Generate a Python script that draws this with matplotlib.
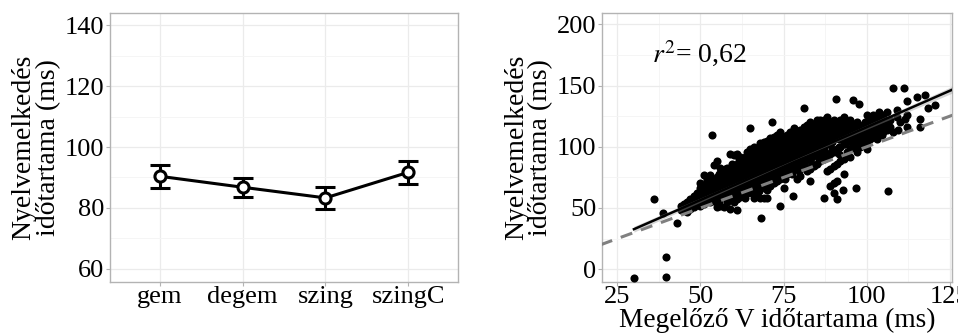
import numpy as np
import matplotlib
matplotlib.use("Agg")
import matplotlib.pyplot as plt
from matplotlib.ticker import MultipleLocator

plt.rcParams['font.family'] = ['Liberation Serif', 'DejaVu Serif']
plt.rcParams['mathtext.fontset'] = 'stix'

# left panel: means with error bars per condition
conditions = ['gem', 'degem', 'szing', 'szingC']
cond_mean = [90.4, 86.8, 83.3, 91.7]
cond_low = [86.6, 83.7, 79.5, 87.9]
cond_high = [94.2, 89.9, 87.0, 95.4]

# right panel: isolated points (vowel duration, raising duration)
outliers = [
    (30, -7.3), (39.5, 10.3), (39.5, -6), (36, 57), (38.8, 45.7), (43, 38),
    (53.4, 110), (64.9, 115.6), (71.4, 120), (68.2, 42), (73.9, 51.7),
    (81.1, 131.4), (77.7, 60), (90.7, 139), (96, 138), (97.7, 135),
    (92.7, 65), (96.7, 66), (87.1, 58), (106.5, 64), (108, 148),
    (111.3, 148), (115, 141), (117.5, 142), (118.5, 132), (116, 123),
    (116, 116), (111.5, 123), (109.5, 114), (104.5, 110), (112, 137),
    (109, 130), (100, 126), (102, 126), (103.8, 128), (120.5, 134),
]

# right panel: dense cloud, listed as vowel duration -> raising durations
cloud = [
    (44, [52, 48]), (45, [53, 50]), (46, [55, 51, 47]), (47, [57, 53, 49]),
    (48, [58, 55, 60, 51]), (49, [62, 56, 53, 60]),
    (50, [66, 58, 55, 62, 52, 70]), (51, [77, 60, 56, 64, 68, 53]),
    (52, [72, 62, 58, 66, 74]), (53, [63, 68, 59, 71, 77, 55]),
    (54, [85, 65, 70, 60, 73, 56]), (55, [88, 67, 72, 62, 75, 51, 58]),
    (56, [70, 64, 74, 78, 60, 52, 83]), (57, [68, 72, 65, 76, 51, 80, 61]),
    (58, [70, 74, 66, 79, 62, 55, 83]), (59, [94, 72, 68, 76, 64, 49, 58, 80]),
    (60, [93, 74, 70, 78, 66, 60, 84, 55]),
    (61, [94, 76, 71, 80, 67, 62, 86, 57, 48]),
    (62, [72, 78, 82, 68, 64, 88, 59, 92]),
    (63, [74, 80, 84, 70, 65, 90, 60, 77]),
    (64, [76, 82, 86, 72, 67, 96, 62, 79]),
    (65, [78, 84, 88, 73, 68, 98, 63, 81, 92]),
    (66, [80, 86, 90, 75, 70, 100, 64, 83, 94, 58]),
    (67, [82, 88, 92, 76, 71, 96, 66, 85, 78, 60]),
    (68, [84, 90, 94, 78, 73, 103, 68, 87, 80, 58]),
    (69, [86, 92, 96, 80, 75, 100, 70, 89, 82, 58, 104]),
    (70, [88, 94, 98, 82, 76, 105, 72, 90, 84, 65, 58]),
    (71, [90, 96, 100, 84, 78, 107, 74, 92, 86, 68]),
    (72, [92, 98, 102, 86, 80, 108, 76, 94, 88, 70]),
    (73, [94, 100, 104, 88, 82, 110, 78, 96, 90, 72, 108]),
    (74, [96, 102, 106, 90, 84, 112, 80, 98, 92, 74]),
    (75, [98, 104, 108, 92, 86, 100, 82, 94, 88, 76, 66]),
    (76, [100, 106, 110, 94, 88, 102, 84, 96, 90, 78]),
    (77, [102, 108, 112, 96, 90, 104, 86, 98, 92, 80]),
    (78, [104, 110, 98, 92, 106, 88, 100, 94, 82, 115]),
    (79, [106, 112, 100, 94, 108, 90, 102, 96, 84, 74]),
    (80, [108, 114, 102, 96, 110, 92, 104, 98, 86, 76]),
    (81, [110, 116, 104, 98, 112, 94, 106, 100, 88]),
    (82, [112, 118, 106, 100, 114, 96, 108, 102, 90, 80]),
    (83, [114, 120, 108, 102, 110, 98, 104, 92, 82, 72]),
    (84, [116, 110, 104, 118, 100, 106, 94, 84]),
    (85, [118, 112, 106, 120, 102, 108, 96, 86, 122]),
    (86, [120, 114, 108, 122, 104, 110, 98, 88]),
    (87, [122, 116, 110, 106, 112, 100, 90]),
    (88, [124, 118, 112, 108, 114, 102, 92, 80]),
    (89, [120, 114, 110, 116, 104, 94, 82, 68]),
    (90, [122, 116, 112, 118, 106, 96, 84, 70, 62]),
    (91, [118, 114, 120, 108, 98, 86, 72, 57]),
    (92, [120, 116, 122, 110, 100, 88]),
    (93, [118, 124, 112, 102, 90, 78]),
    (94, [120, 114, 104, 96, 108]),
    (95, [122, 116, 106, 98, 110, 92]),
    (96, [118, 108, 100, 112]),
    (97, [120, 110, 102, 114, 96]),
    (98, [116, 112, 104, 100]),
    (99, [118, 110, 106, 102]),
    (100, [120, 112, 108, 104, 98]),
    (101, [124, 114, 110, 106]),
    (102, [116, 112, 108]),
    (103, [122, 118, 114, 106]),
    (104, [124, 120]),
    (105, [126, 118, 112]),
    (106, [128, 120, 114]),
    (107, [122, 116]),
    (108, [112]),
    (109, [124]),
    (110, [120]),
    (112, [126, 116]),
    (55.5, [70, 64, 78, 56]), (57.5, [74, 68, 62, 82]),
    (59.5, [76, 70, 64, 86, 58]), (61.5, [78, 72, 66, 90, 60]),
    (63.5, [82, 76, 70, 92, 64, 58]), (65.5, [86, 80, 74, 94, 68, 62]),
    (67.5, [88, 82, 76, 98, 70, 64]), (69.5, [90, 84, 78, 102, 72, 66, 96]),
    (71.5, [94, 88, 82, 104, 76, 70, 98]),
    (73.5, [96, 90, 84, 106, 78, 100, 86]),
    (75.5, [100, 94, 88, 108, 82, 104, 74]),
    (77.5, [102, 96, 90, 110, 84, 106, 78]),
    (79.5, [104, 98, 92, 112, 86, 108, 80]),
    (81.5, [106, 100, 94, 114, 88, 110, 84]),
    (83.5, [110, 104, 98, 116, 92, 112, 86]),
    (85.5, [112, 106, 100, 118, 94, 114, 90]),
    (87.5, [114, 108, 102, 120, 96, 116, 92]),
    (89.5, [116, 110, 104, 120, 98, 112]),
    (91.5, [118, 112, 106, 100, 114, 94]),
    (93.5, [120, 114, 108, 102, 116]),
    (95.5, [118, 112, 106, 104]), (97.5, [118, 112, 108, 104]),
    (99.5, [120, 114, 110, 106]), (101.5, [122, 116, 112, 108]),
    (103.5, [120, 116, 112]), (105.5, [122, 116]),
]

# regression fit and reference line
fit_intercept = -3.0
fit_slope = 1.19
fit_x = [30, 78, 126]
fit_ci = [2.4, 0.8, 2.8]
ref_slope = 1.0
r2_text = '$\\mathit{r}^2$= 0,62'
y_title = 'Nyelvemelkedés\nidőtartama (ms)'

grid_major = '#EBEBEB'
grid_minor = '#F4F4F4'
frame_col = '#B3B3B3'
fs = 19


def style_axes(ax):
    for s in ax.spines.values():
        s.set_color(frame_col)
        s.set_linewidth(1.0)
    ax.tick_params(colors=frame_col, labelcolor='black', labelsize=fs,
                   length=3, width=0.8, pad=1)
    ax.tick_params(axis='x', pad=0)
    ax.grid(True, which='major', color=grid_major, lw=0.9, zorder=0)
    ax.grid(True, which='minor', color=grid_minor, lw=0.6, zorder=0)
    ax.tick_params(which='minor', length=0)
    ax.set_axisbelow(True)


vowel_dur = [p[0] for p in outliers]
raise_dur = [p[1] for p in outliers]
for x, ys in cloud:
    vowel_dur += [x] * len(ys)
    raise_dur += ys

fig = plt.figure(figsize=(9.58, 3.33), dpi=100)

ax1 = fig.add_axes([0.1148, 0.1532, 0.3633, 0.8078])
pos = np.arange(1, len(conditions) + 1)
mean = np.array(cond_mean)
err = [mean - np.array(cond_low), np.array(cond_high) - mean]
ax1.errorbar(pos, mean, yerr=err, color='black', lw=2.2, capsize=7,
             capthick=2.2, elinewidth=2.2, marker='o', ms=8, mfc='white',
             mec='black', mew=2.2, zorder=3)
ax1.set_xlim(0.4, 4.6)
ax1.set_ylim(55.7, 144)
ax1.set_xticks(pos)
ax1.set_xticklabels(conditions)
ax1.yaxis.set_major_locator(MultipleLocator(20))
ax1.yaxis.set_minor_locator(MultipleLocator(10))
ax1.set_ylabel(y_title, fontsize=20, linespacing=0.95, labelpad=3)
style_axes(ax1)

ax2 = fig.add_axes([0.6284, 0.1532, 0.3653, 0.8078])
ax2.scatter(vowel_dur, raise_dur, s=34, color='black', lw=0, zorder=3)
xx = np.array([20, 130])
ax2.plot(xx, ref_slope * xx, color='#808080', lw=2.2, ls=(0, (4, 3)),
         zorder=4)
fx = np.array(fit_x, dtype=float)
fy = fit_intercept + fit_slope * fx
ax2.fill_between(fx, fy - np.array(fit_ci), fy + np.array(fit_ci),
                 color='#999999', alpha=0.4, lw=0, zorder=4)
ax2.plot(fx, fy, color='black', lw=1.8, zorder=5)
ax2.text(35.5, 176, r2_text, fontsize=20, va='center', ha='left')
ax2.set_xlim(20.4, 125.6)
ax2.set_ylim(-10.4, 209.2)
ax2.xaxis.set_major_locator(MultipleLocator(25))
ax2.xaxis.set_minor_locator(MultipleLocator(12.5))
ax2.yaxis.set_major_locator(MultipleLocator(50))
ax2.yaxis.set_minor_locator(MultipleLocator(25))
ax2.set_ylabel(y_title, fontsize=20, linespacing=0.95, labelpad=3)
ax2.set_xlabel('Megelőző V időtartama (ms)', fontsize=19.7)
ax2.xaxis.set_label_coords(0.5, -0.167)
ax2.xaxis.label.set_va('baseline')
style_axes(ax2)

fig.savefig('out.png', dpi=100)
